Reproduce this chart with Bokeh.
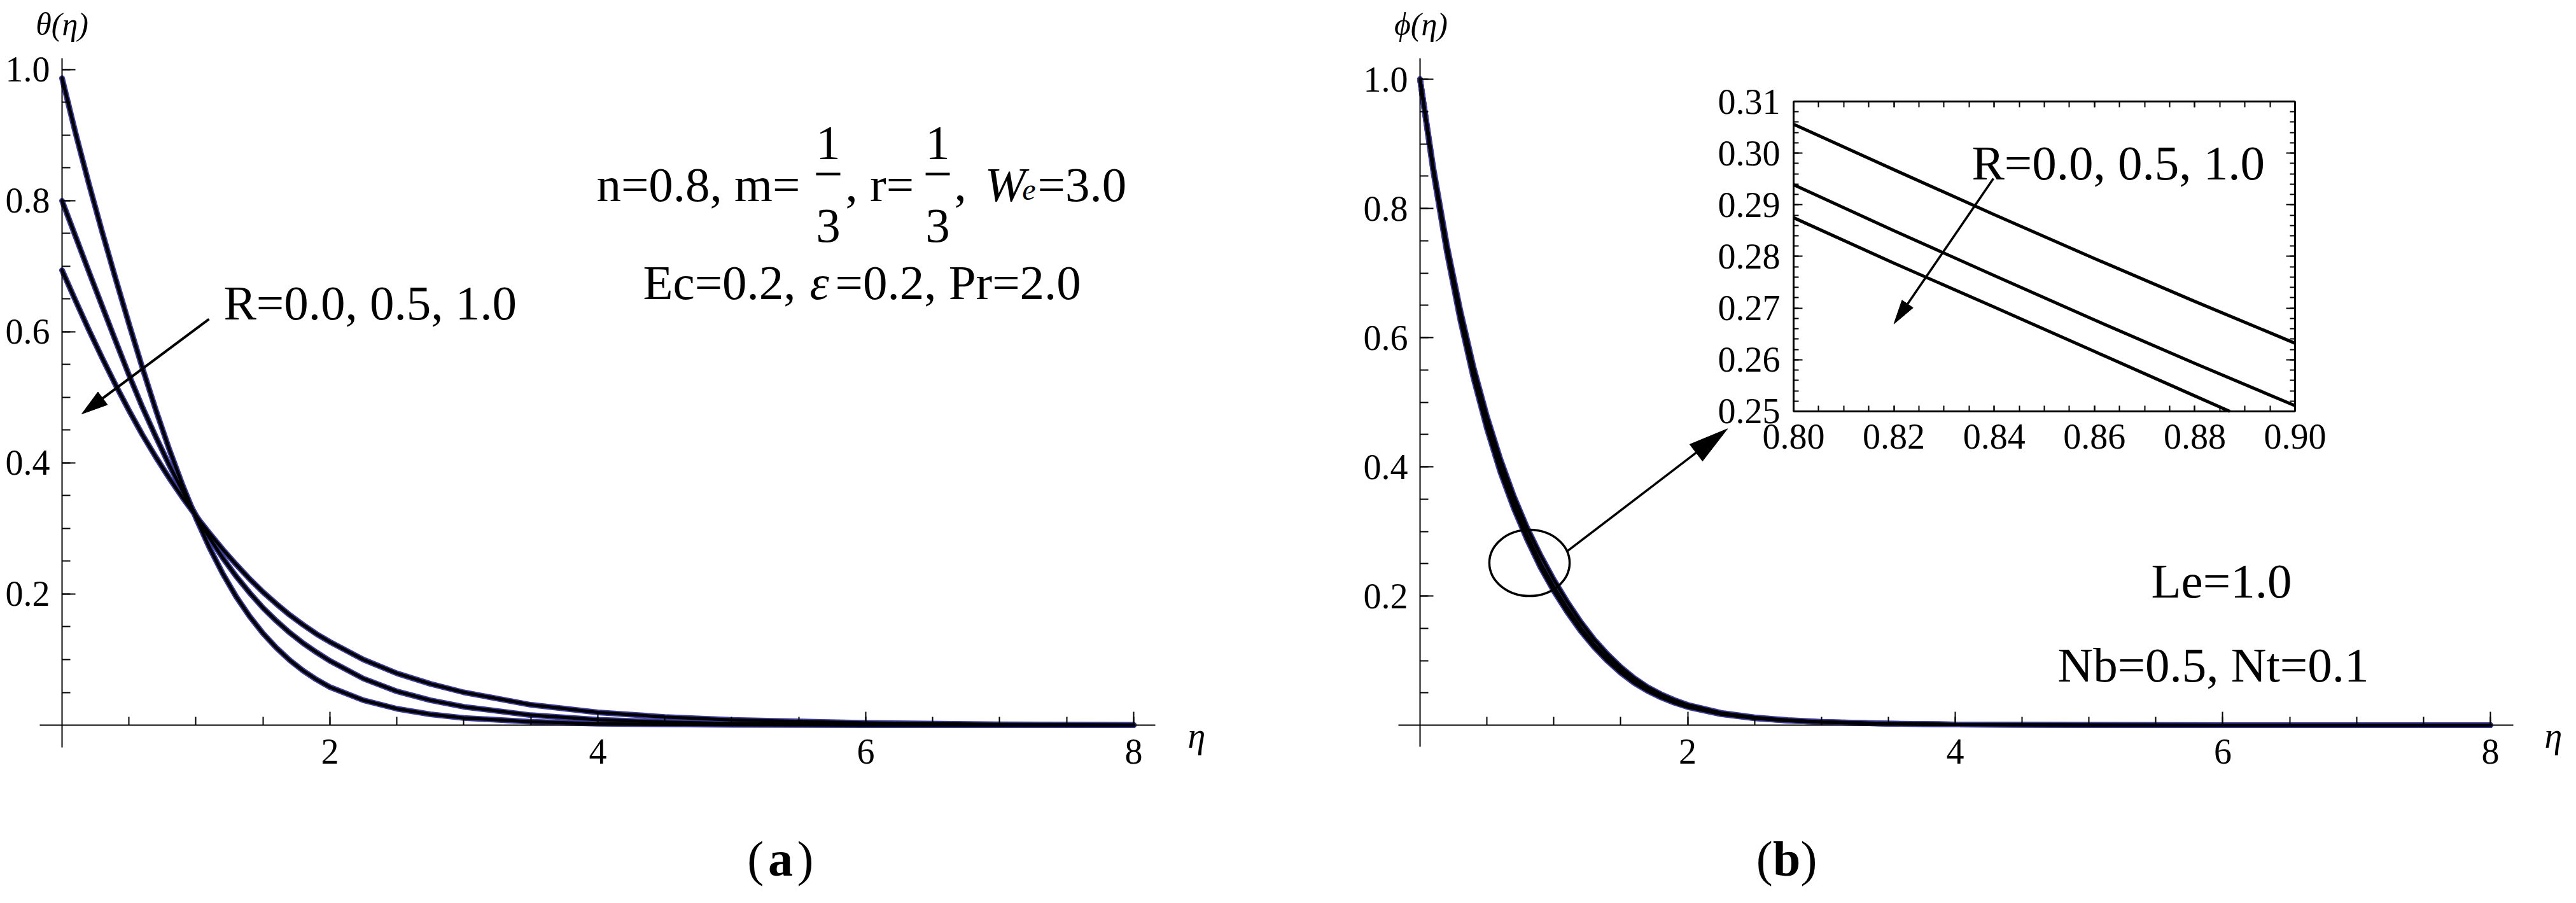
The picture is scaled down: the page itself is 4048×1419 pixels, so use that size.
import math
from bokeh.plotting import figure
from bokeh.layouts import row
from bokeh.models import LinearAxis, FixedTicker, PrintfTickFormatter, Range1d, Label
from bokeh.embed import file_html
from bokeh.resources import INLINE

# ---------------- data ----------------
# (a) temperature profiles theta(eta)
eta_a = [0, 0.1, 0.2, 0.3, 0.4, 0.5, 0.6, 0.7, 0.8, 0.9, 1.0, 1.1, 1.2, 1.3, 1.4,
         1.5, 1.6, 1.7, 1.8, 1.9, 2.0, 2.25, 2.5, 2.75, 3.0, 3.5, 4.0, 4.5, 5.0,
         6.0, 7.0, 8.0]
theta_R00 = [0.987, 0.904, 0.826, 0.752, 0.681, 0.612, 0.545, 0.481, 0.421, 0.366,
             0.316, 0.271, 0.231, 0.196, 0.166, 0.140, 0.118, 0.099, 0.083, 0.0695,
             0.058, 0.038, 0.025, 0.0165, 0.011, 0.005, 0.0023, 0.0011, 0.0005,
             0.0001, 0.0, 0.0]
theta_R05 = [0.800, 0.746, 0.692, 0.639, 0.586, 0.534, 0.485, 0.440, 0.397, 0.357,
             0.320, 0.286, 0.255, 0.227, 0.202, 0.179, 0.159, 0.141, 0.125, 0.111,
             0.098, 0.071, 0.0515, 0.038, 0.028, 0.0152, 0.0083, 0.0046, 0.0025,
             0.0008, 0.0002, 0.0]
theta_R10 = [0.694, 0.648, 0.603, 0.560, 0.519, 0.480, 0.443, 0.409, 0.377, 0.347,
             0.319, 0.293, 0.268, 0.245, 0.223, 0.203, 0.185, 0.168, 0.153, 0.139,
             0.127, 0.100, 0.079, 0.063, 0.050, 0.031, 0.0195, 0.0125, 0.0080,
             0.0033, 0.0013, 0.0005]

# (b) concentration profiles phi(eta)
eta_b = [0, 0.1, 0.2, 0.3, 0.4, 0.5, 0.6, 0.7, 0.8, 0.9, 1.0, 1.1, 1.2, 1.3, 1.4,
         1.5, 1.6, 1.7, 1.8, 1.9, 2.0, 2.25, 2.5, 2.75, 3.0, 3.5, 4.0, 5.0, 6.0, 8.0]
phi_R00 = [1.0, 0.862, 0.744, 0.643, 0.554, 0.478, 0.412, 0.355, 0.3056, 0.2632,
           0.2250, 0.191, 0.160, 0.133, 0.110, 0.090, 0.073, 0.059, 0.048, 0.039,
           0.0315, 0.019, 0.012, 0.0079, 0.0053, 0.0024, 0.0011, 0.0002, 0.0, 0.0]
phi_R05 = [1.0, 0.858, 0.737, 0.633, 0.543, 0.466, 0.400, 0.343, 0.2939, 0.2511,
           0.2140, 0.181, 0.151, 0.125, 0.103, 0.084, 0.068, 0.055, 0.0445, 0.036,
           0.029, 0.0175, 0.0110, 0.0072, 0.0048, 0.0022, 0.0010, 0.0002, 0.0, 0.0]
phi_R10 = [1.0, 0.856, 0.733, 0.628, 0.537, 0.459, 0.392, 0.336, 0.2875, 0.2442,
           0.2075, 0.175, 0.146, 0.121, 0.0995, 0.081, 0.0655, 0.053, 0.043, 0.0347,
           0.028, 0.0169, 0.0106, 0.0069, 0.0046, 0.0021, 0.0010, 0.0002, 0.0, 0.0]

# inset of (b): 0.80 <= eta <= 0.90
inset_eta = [0.80, 0.82, 0.84, 0.86, 0.88, 0.90]
inset_R00 = [0.3056, 0.2968, 0.2881, 0.2796, 0.2713, 0.2632]
inset_R05 = [0.2939, 0.2850, 0.2763, 0.2677, 0.2593, 0.2511]
inset_eta_R10 = [0.80, 0.82, 0.84, 0.86, 0.88, 0.887]
inset_R10 = [0.2875, 0.2787, 0.2702, 0.2616, 0.2530, 0.2500]

# ticks
x_major = [2, 4, 6, 8]
x_minor = [0.5 * i for i in range(1, 17)]
y_major = [0.2, 0.4, 0.6, 0.8, 1.0]
y_minor = [round(0.05 * i, 2) for i in range(1, 21)]
inset_x_major = [0.80, 0.82, 0.84, 0.86, 0.88, 0.90]
inset_x_minor = [round(0.80 + 0.005 * i, 3) for i in range(21)]
inset_y_major = [0.25, 0.26, 0.27, 0.28, 0.29, 0.30, 0.31]
inset_y_minor = [round(0.25 + 0.002 * i, 3) for i in range(31)]

# ---------------- styling / geometry ----------------
W, H = 2016, 1403
FONT = "Liberation Serif"
BLUE = "#3c3c96"
TICK_FS = "56px"
ANN_FS = "77px"
CAP_FS = "78px"

X1, Y1 = (-0.4608, 9.1164), (-0.2563, 1.1058)
X2, Y2 = (-1.0226, 8.5660), (-0.2601, 1.1222)
IX, IY = (0.69822, 0.95406), (0.15673, 0.32959)


def make_fig(xr, yr):
    p = figure(width=W, height=H, x_range=Range1d(*xr), y_range=Range1d(*yr),
               x_axis_location=None, y_axis_location=None, toolbar_location=None,
               output_backend="svg", min_border=0, title=None)
    p.outline_line_color = None
    p.grid.visible = False
    p.background_fill_color = "white"
    p.border_fill_color = "white"
    return p


def style_axis(ax, major_in, minor_in, lw=2, labels=True, standoff=20):
    ax.axis_line_color = "black"
    ax.axis_line_width = lw
    ax.major_tick_line_color = "black"
    ax.minor_tick_line_color = "black"
    ax.major_tick_line_width = 2
    ax.minor_tick_line_width = 2
    ax.major_tick_in = major_in
    ax.major_tick_out = 0
    ax.minor_tick_in = minor_in
    ax.minor_tick_out = 0
    ax.major_label_text_font = FONT
    ax.major_label_text_font_size = TICK_FS
    ax.major_label_standoff = standoff
    ax.major_label_text_color = "black" if labels else None


def main_axes(p, xb, yb):
    xa = LinearAxis(fixed_location=0, bounds=xb,
                    ticker=FixedTicker(ticks=x_major, minor_ticks=x_minor),
                    formatter=PrintfTickFormatter(format="%d"))
    style_axis(xa, 21, 13, standoff=22)
    p.add_layout(xa, "below")
    ya = LinearAxis(fixed_location=0, bounds=yb,
                    ticker=FixedTicker(ticks=y_major, minor_ticks=y_minor),
                    formatter=PrintfTickFormatter(format="%.1f"))
    style_axis(ya, 21, 13, standoff=19)
    p.add_layout(ya, "left")


def curves(p, xs, ys_list):
    for ys in ys_list:
        p.line(xs, ys, line_color=BLUE, line_width=9, line_join="round", line_cap="round")
    for ys in ys_list:
        p.line(xs, ys, line_color="black", line_width=5, line_join="round", line_cap="round")


def label(p, x, y, text, size=ANN_FS, style="normal", align="left", **kw):
    p.add_layout(Label(x=x, y=y, text=text, text_font=FONT, text_font_size=size,
                       text_font_style=style, text_align=align,
                       text_baseline="alphabetic", text_color="black", **kw))


def arrow(p, x0, y0, x1, y1, ppx, ppy, head_len, head_w, lw, **kw):
    dx, dy = (x1 - x0) * ppx, (y1 - y0) * ppy
    L = math.hypot(dx, dy)
    ux, uy = dx / L, dy / L
    bx, by = x1 - head_len * ux / ppx, y1 - head_len * uy / ppy
    px_, py_ = -uy, ux
    hx = [x1, bx + 0.5 * head_w * px_ / ppx, bx - 0.5 * head_w * px_ / ppx]
    hy = [y1, by + 0.5 * head_w * py_ / ppy, by - 0.5 * head_w * py_ / ppy]
    p.segment(x0=[x0], y0=[y0], x1=[bx], y1=[by], line_color="black", line_width=lw, **kw)
    p.patch(hx, hy, fill_color="black", line_color="black", line_width=1, **kw)


# ---------------- panel (a) ----------------
p1 = make_fig(X1, Y1)
ppx1, ppy1 = W / (X1[1] - X1[0]), H / (Y1[1] - Y1[0])
main_axes(p1, (-0.166, 8.162), (-0.034, 1.0175))
curves(p1, eta_a, [theta_R00, theta_R05, theta_R10])

label(p1, 0.0, 1.069, "θ(η)", size="50px", style="italic", align="center")
label(p1, 8.47, -0.0165, "η", size="56px", style="italic", align="center")

label(p1, 1.2067, 0.6437, "R=0.0, 0.5, 1.0")
arrow(p1, 1.097, 0.6194, 0.1473, 0.4748, ppx1, ppy1, 41, 25, 4)

# n=0.8, m=1/3, r=1/3, W_e=3.0
label(p1, 3.990, 0.8252, "n=0.8, m=")
label(p1, 5.720, 0.8874, "1", align="center")
label(p1, 5.720, 0.7621, "3", align="center")
label(p1, 5.848, 0.8252, ", r=")
label(p1, 6.537, 0.8874, "1", align="center")
label(p1, 6.537, 0.7621, "3", align="center")
label(p1, 6.660, 0.8252, ",")
label(p1, 6.888, 0.8252, "W", style="italic")
label(p1, 7.168, 0.8165, "e", size="48px", style="italic")
label(p1, 7.283, 0.8252, "=3.0")
p1.segment(x0=[5.629, 6.447], y0=[0.8408, 0.8408], x1=[5.810, 6.627], y1=[0.8408, 0.8408],
           line_color="black", line_width=4)

# Ec=0.2, eps=0.2, Pr=2.0
label(p1, 4.337, 0.6748, "Ec=0.2, ")
label(p1, 5.582, 0.6748, "ε", style="italic")
label(p1, 5.772, 0.6748, "=0.2, Pr=2.0")

# caption (a)
label(p1, 5.239, -0.2038, "(", size=CAP_FS, align="right")
label(p1, 5.363, -0.2038, "a", size=CAP_FS, style="bold", align="center")
label(p1, 5.487, -0.2038, ")", size=CAP_FS, align="left")

# ---------------- panel (b) ----------------
p2 = make_fig(X2, Y2)
p2.extra_x_ranges = {"ix": Range1d(*IX)}
p2.extra_y_ranges = {"iy": Range1d(*IY)}
ppx2, ppy2 = W / (X2[1] - X2[0]), H / (Y2[1] - Y2[0])
ppxi, ppyi = W / (IX[1] - IX[0]), H / (IY[1] - IY[0])
main_axes(p2, (-0.162, 8.171), (-0.0335, 1.033))
curves(p2, eta_b, [phi_R00, phi_R05, phi_R10])

label(p2, 0.007, 1.0857, "ϕ(η)", size="50px", style="italic", align="center")
label(p2, 8.47, -0.0167, "η", size="56px", style="italic", align="center")

label(p2, 5.465, 0.2236, "Le=1.0")
label(p2, 4.766, 0.0936, "Nb=0.5, Nt=0.1")

# zoom ellipse and arrow to inset
p2.ellipse(x=[0.818], y=[0.2512], width=[0.60], height=[0.1025],
           fill_color=None, line_color="black", line_width=3.5)
arrow(p2, 1.0987, 0.269, 2.298, 0.4588, ppx2, ppy2, 62, 33, 3.5)

# inset axes (box)
ib = LinearAxis(x_range_name="ix", y_range_name="iy", fixed_location=0.25, bounds=(0.80, 0.90),
                ticker=FixedTicker(ticks=inset_x_major, minor_ticks=inset_x_minor),
                formatter=PrintfTickFormatter(format="%.2f"))
style_axis(ib, 9, 9, lw=3, standoff=21)
p2.add_layout(ib, "below")
it = LinearAxis(x_range_name="ix", y_range_name="iy", fixed_location=0.31, bounds=(0.80, 0.90),
                ticker=FixedTicker(ticks=inset_x_major, minor_ticks=inset_x_minor),
                formatter=PrintfTickFormatter(format="%.2f"))
style_axis(it, 9, 9, lw=3, labels=False)
p2.add_layout(it, "above")
il = LinearAxis(x_range_name="ix", y_range_name="iy", fixed_location=0.80, bounds=(0.25, 0.31),
                ticker=FixedTicker(ticks=inset_y_major, minor_ticks=inset_y_minor),
                formatter=PrintfTickFormatter(format="%.2f"))
style_axis(il, 14, 8, lw=3, standoff=21)
p2.add_layout(il, "left")
ir = LinearAxis(x_range_name="ix", y_range_name="iy", fixed_location=0.90, bounds=(0.25, 0.31),
                ticker=FixedTicker(ticks=inset_y_major, minor_ticks=inset_y_minor),
                formatter=PrintfTickFormatter(format="%.2f"))
style_axis(ir, 14, 8, lw=3, labels=False)
p2.add_layout(ir, "right")

for xs, ys in [(inset_eta, inset_R00), (inset_eta, inset_R05), (inset_eta_R10, inset_R10)]:
    p2.line(xs, ys, line_color="black", line_width=5, x_range_name="ix", y_range_name="iy")

label(p2, 0.83553, 0.29805, "R=0.0, 0.5, 1.0", x_range_name="ix", y_range_name="iy")
arrow(p2, 0.83985, 0.29509, 0.8200, 0.26693, ppxi, ppyi, 38, 21, 3.5,
      x_range_name="ix", y_range_name="iy")

# caption (b)
label(p2, 2.636, -0.2069, "(", size=CAP_FS, align="right")
label(p2, 2.740, -0.2069, "b", size=CAP_FS, style="bold", align="center")
label(p2, 2.844, -0.2069, ")", size=CAP_FS, align="left")

layout = row(p1, p2, spacing=0)
open("out.html", "w").write(file_html(layout, INLINE))
